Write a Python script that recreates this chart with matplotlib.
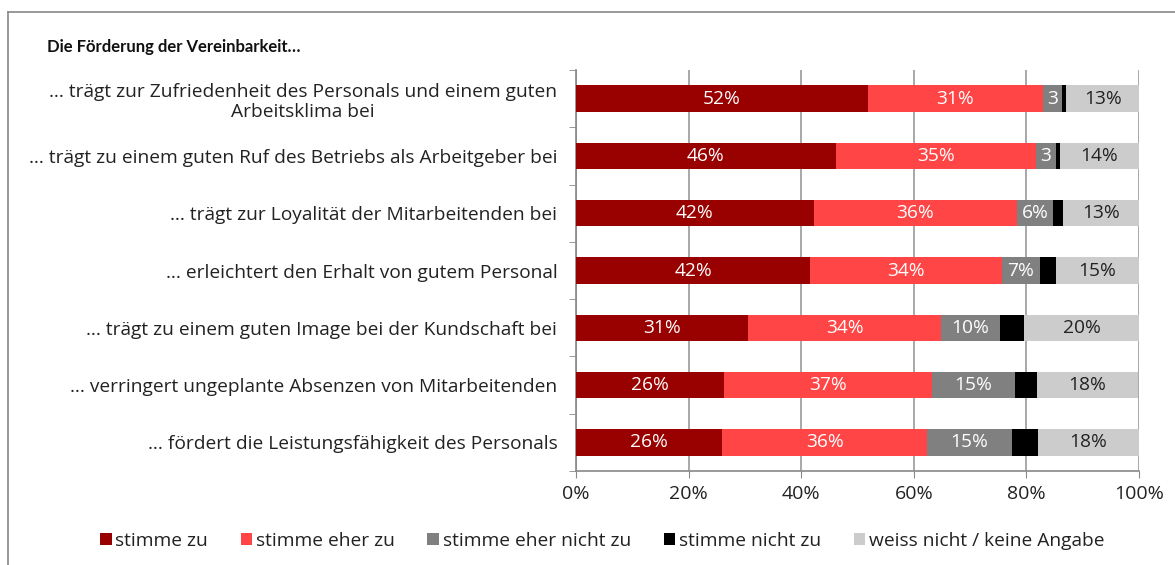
import matplotlib.pyplot as plt
import numpy as np

plt.rcParams['font.family'] = ['Open Sans', 'DejaVu Sans']

kategorien = [
    "… trägt zur Zufriedenheit des Personals und einem guten\nArbeitsklima bei",
    "… trägt zu einem guten Ruf des Betriebs als Arbeitgeber bei",
    "… trägt zur Loyalität der Mitarbeitenden bei",
    "… erleichtert den Erhalt von gutem Personal",
    "… trägt zu einem guten Image bei der Kundschaft bei",
    "… verringert ungeplante Absenzen von Mitarbeitenden",
    "… fördert die Leistungsfähigkeit des Personals",
]
stimme_zu = [51.8, 46.1, 42.2, 41.6, 30.6, 26.3, 26.0]
eher_zu = [31.1, 35.6, 36.2, 34.0, 34.2, 36.9, 36.3]
eher_nicht = [3.4, 3.5, 6.3, 6.9, 10.5, 14.7, 15.1]
nicht_zu = [0.8, 0.8, 1.8, 2.7, 4.3, 3.9, 4.6]
weiss_nicht = [12.9, 14.0, 13.5, 14.8, 20.4, 18.1, 18.0]

lab_stimme_zu = ["52%", "46%", "42%", "42%", "31%", "26%", "26%"]
lab_eher_zu = ["31%", "35%", "36%", "34%", "34%", "37%", "36%"]
lab_eher_nicht = ["3", "3", "6%", "7%", "10%", "15%", "15%"]
lab_nicht_zu = ["", "", "", "", "", "", ""]
lab_weiss_nicht = ["13%", "14%", "13%", "15%", "20%", "18%", "18%"]

serien = ["stimme zu", "stimme eher zu", "stimme eher nicht zu", "stimme nicht zu", "weiss nicht / keine Angabe"]
farben = ["#990000", "#ff4545", "#808080", "#000000", "#cccccc"]
textfarben = ["white", "white", "white", "white", "#222222"]

werte = [stimme_zu, eher_zu, eher_nicht, nicht_zu, weiss_nicht]
labels = [lab_stimme_zu, lab_eher_zu, lab_eher_nicht, lab_nicht_zu, lab_weiss_nicht]

fig = plt.figure(figsize=(11.75, 5.65), dpi=100)
ax = fig.add_axes([576/1175, 1-471/565, (1139-576)/1175, (471-70)/565])

y = np.arange(len(kategorien))
links = np.zeros(len(kategorien))
for i in range(5):
    v = np.array(werte[i])
    bars = ax.barh(y, v, left=links, height=0.46, color=farben[i], label=serien[i], zorder=3)
    for j, b in enumerate(bars):
        if labels[i][j]:
            ax.text(links[j] + v[j]/2, y[j], labels[i][j], ha='center', va='center',
                    color=textfarben[i], fontsize=13.8, zorder=4)
    links = links + v

ax.set_xlim(0, 100)
ax.set_ylim(len(kategorien) - 0.5, -0.5)
ax.set_xticks(np.arange(0, 101, 20))
ax.set_xticklabels([f"{t}%" for t in range(0, 101, 20)], fontsize=14, color="#222222")
ax.set_yticks(y)
ax.set_yticklabels(kategorien, fontsize=13.8, color="#222222", multialignment='center')
ax.tick_params(axis='y', length=0, pad=13.5)
ax.set_yticks(np.arange(-0.5, len(kategorien)), minor=True)
ax.tick_params(axis='y', which='minor', length=5, color='#888888', direction='out')
ax.tick_params(axis='x', length=5, color='#888888', pad=5)
ax.xaxis.grid(True, color='#999999', linewidth=1.2, zorder=0)
for s in ['top', 'right']:
    ax.spines[s].set_visible(False)
for s in ['left', 'bottom']:
    ax.spines[s].set_color('#888888')
    ax.spines[s].set_linewidth(1.2)

fig.text(47/1175, 1-47/565, "Die Förderung der Vereinbarkeit…", fontsize=12, fontweight='bold',
         family=['Lato', 'DejaVu Sans'], va='center', ha='left', color='#111111')

leg = fig.legend(loc='center left', bbox_to_anchor=(100/1175, 1-541/565), ncol=5, frameon=False,
                 fontsize=13.8, handlelength=0.6, handleheight=0.6, handletextpad=0.2,
                 columnspacing=1.7, borderaxespad=0, borderpad=0)
for t in leg.get_texts():
    t.set_color('#222222')

# Rahmen
fig.add_artist(plt.Line2D([8/1175, 8/1175], [0, 1-12/565], transform=fig.transFigure, color='#888888', lw=1.2))
fig.add_artist(plt.Line2D([8/1175, 1], [1-12/565, 1-12/565], transform=fig.transFigure, color='#888888', lw=1.2))

plt.savefig('out.png', dpi=100)
